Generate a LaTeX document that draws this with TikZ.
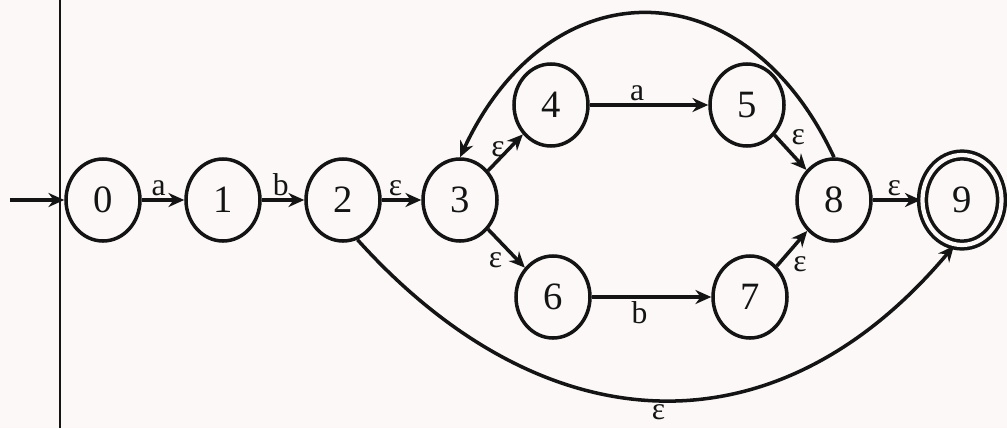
\documentclass[tikz,border=0pt]{standalone}
\usepackage{fontspec}
\setmainfont{Liberation Serif}
\usepackage{tikz}
\usetikzlibrary{shapes.geometric, arrows.meta}
\definecolor{nInk}{HTML}{141414}
\definecolor{nPaper}{HTML}{FBF8F7}
\tikzset{
  nState/.style={draw=nInk, ellipse, line width=2pt, minimum width=1.48cm, minimum height=1.64cm,
    inner sep=0pt, text=nInk, font=\fontsize{22}{24}\selectfont},
  nAccept/.style={nState, double=nPaper, double distance=2.4pt, minimum width=1.58cm, minimum height=1.8cm},
  nEdge/.style={draw=nInk, line width=2pt, -{Stealth[length=9pt,width=8pt]}},
  nLbl/.style={text=nInk, inner sep=1.5pt, font=\fontsize{18}{20}\selectfont}
}

\begin{document}
\begin{tikzpicture}
  \fill[nPaper] (0,0) rectangle (20.14,8.56);
  \useasboundingbox (0,0) rectangle (20.14,8.56);
  % margin rule of the page
  \draw[nInk, line width=1pt] (1.2,0) -- (1.2,8.56);

  \node[nState] (n0) at (2.06,4.56) {0};
  \node[nState] (n1) at (4.46,4.56) {1};
  \node[nState] (n2) at (6.86,4.56) {2};
  \node[nState] (n3) at (9.2,4.56) {3};
  \node[nState] (n4) at (11.02,6.46) {4};
  \node[nState] (n5) at (14.94,6.46) {5};
  \node[nState] (n6) at (11.06,2.62) {6};
  \node[nState] (n7) at (15.0,2.62) {7};
  \node[nState] (n8) at (16.68,4.56) {8};
  \node[nAccept] (n9) at (19.24,4.56) {9};
  \coordinate (start) at (0.2,4.56);

  \draw[nEdge] (start) -- (n0);
  \draw[nEdge] (n0) -- node[nLbl, above, pos=0.4] {a} (n1);
  \draw[nEdge] (n1) -- node[nLbl, above, pos=0.45] {b} (n2);
  \draw[nEdge] (n2) -- node[nLbl, above, pos=0.35] {ε} (n3);
  \draw[nEdge] (n3) -- node[nLbl, left, pos=0.6] {ε} (n4);
  \draw[nEdge] (n3) -- node[nLbl, below left, pos=0.5] {ε} (n6);
  \draw[nEdge] (n4) -- node[nLbl, above, pos=0.4] {a} (n5);
  \draw[nEdge] (n6) -- node[nLbl, below, pos=0.4] {b} (n7);
  \draw[nEdge] (n5) -- node[nLbl, above right, pos=0.4] {ε} (n8);
  \draw[nEdge] (n7) -- node[nLbl, below right, pos=0.4] {ε} (n8);
  \draw[nEdge] (n8) -- node[nLbl, above, pos=0.45] {ε} (n9);
  % the two long loops
  \draw[nEdge] (n8.north) to[out=115, in=65, looseness=1.45] (n3.north);
  \draw[nEdge] (n2.-70) to[out=-48, in=-130, looseness=1.19]
    node[nLbl, below=0pt] {ε} (n9.-100);
\end{tikzpicture}
\end{document}
